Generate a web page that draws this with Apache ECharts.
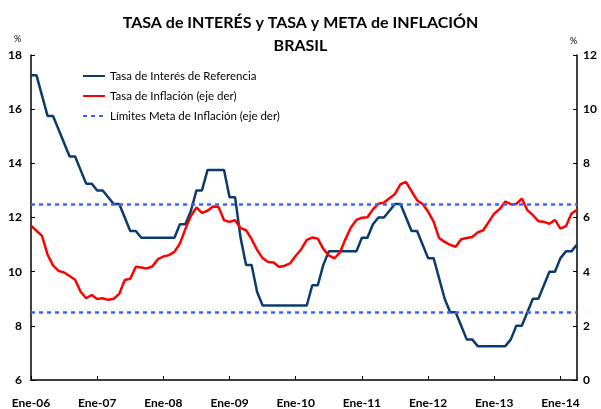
<!DOCTYPE html>
<html lang="es">
<head>
    <meta charset="UTF-8">
    <title>Tasa de interés y tasa y meta de inflación - Brasil</title>
    <script src="https://cdn.jsdelivr.net/npm/echarts@6/dist/echarts.min.js"></script>
    <style>
        html, body { margin: 0; padding: 0; background: #fff; }
    </style>
</head>
<body>
<div id="main" style="width: 601px;height:409px;"></div>
<script type="text/javascript">
    // meses ene-06 .. abr-14
    var anios = ['06', '07', '08', '09', '10', '11', '12', '13', '14'];
    var mesesEs = ['Ene', 'Feb', 'Mar', 'Abr', 'May', 'Jun', 'Jul', 'Ago', 'Sep', 'Oct', 'Nov', 'Dic'];
    var meses = [];
    for (var a = 0; a < anios.length; a++) {
        for (var k = 0; k < 12; k++) {
            if (a === anios.length - 1 && k > 3) break;
            meses.push(mesesEs[k] + '-' + anios[a]);
        }
    }

    // Tasa de interés de referencia (eje izq)
    var tasaInteres = [
        17.25, 17.25, 16.5, 15.75, 15.75, 15.25, 14.75, 14.25, 14.25, 13.75, 13.25, 13.25,
        13.0, 13.0, 12.75, 12.5, 12.5, 12.0, 11.5, 11.5, 11.25, 11.25, 11.25, 11.25,
        11.25, 11.25, 11.25, 11.75, 11.75, 12.25, 13.0, 13.0, 13.75, 13.75, 13.75, 13.75,
        12.75, 12.75, 11.25, 10.25, 10.25, 9.25, 8.75, 8.75, 8.75, 8.75, 8.75, 8.75,
        8.75, 8.75, 8.75, 9.5, 9.5, 10.25, 10.75, 10.75, 10.75, 10.75, 10.75, 10.75,
        11.25, 11.25, 11.75, 12.0, 12.0, 12.25, 12.5, 12.5, 12.0, 11.5, 11.5, 11.0,
        10.5, 10.5, 9.75, 9.0, 8.5, 8.5, 8.0, 7.5, 7.5, 7.25, 7.25, 7.25,
        7.25, 7.25, 7.25, 7.5, 8.0, 8.0, 8.5, 9.0, 9.0, 9.5, 10.0, 10.0,
        10.5, 10.75, 10.75, 11.0
    ];

    // Tasa de inflación 12 meses (eje der)
    var inflacion = [
        5.70, 5.51, 5.32, 4.63, 4.23, 4.03, 3.97, 3.84, 3.70, 3.26, 3.02, 3.14,
        2.99, 3.02, 2.96, 3.00, 3.18, 3.69, 3.74, 4.18, 4.15, 4.12, 4.19, 4.46,
        4.56, 4.61, 4.73, 5.04, 5.58, 6.06, 6.37, 6.17, 6.25, 6.41, 6.39, 5.90,
        5.84, 5.90, 5.61, 5.53, 5.20, 4.80, 4.50, 4.36, 4.34, 4.17, 4.22, 4.31,
        4.59, 4.83, 5.17, 5.26, 5.22, 4.84, 4.60, 4.49, 4.70, 5.20, 5.63, 5.91,
        5.99, 6.01, 6.30, 6.51, 6.55, 6.71, 6.87, 7.23, 7.31, 6.97, 6.64, 6.50,
        6.22, 5.85, 5.24, 5.10, 4.99, 4.92, 5.20, 5.24, 5.28, 5.45, 5.53, 5.84,
        6.15, 6.31, 6.59, 6.49, 6.50, 6.70, 6.27, 6.09, 5.86, 5.84, 5.77, 5.91,
        5.59, 5.68, 6.15, 6.28
    ];

    // límites de la meta de inflación (eje der)
    var metaLimites = [2.5, 6.5];

    var fuente = 'Lato, "DejaVu Sans", sans-serif';
    var myChart = echarts.init(document.getElementById('main'));

    var option = {
        backgroundColor: '#fff',
        animation: false,
        textStyle: { fontFamily: fuente },
        title: {
            text: 'TASA de INTERÉS y TASA y META de INFLACIÓN\nBRASIL',
            left: 'center',
            top: 6,
            textStyle: {
                fontSize: 16,
                fontWeight: 'bold',
                color: '#000',
                lineHeight: 23,
                fontFamily: fuente
            }
        },
        graphic: [
            { type: 'text', left: 14, top: 35, style: { text: '%', fill: '#000', font: '9px ' + fuente } },
            { type: 'text', left: 570, top: 37, style: { text: '%', fill: '#000', font: '9px ' + fuente } }
        ],
        legend: {
            orient: 'vertical',
            left: 77,
            top: 65,
            itemGap: 8,
            itemWidth: 22,
            itemHeight: 10,
            itemStyle: { opacity: 0 },
            textStyle: { fontSize: 11.5, color: '#000', fontFamily: fuente },
            data: ['Tasa de Interés de Referencia', 'Tasa de Inflación (eje der)', 'Límites Meta de Inflación (eje der)']
        },
        grid: {
            left: 31,
            right: 24,
            top: 55,
            bottom: 26
        },
        xAxis: {
            type: 'category',
            data: meses,
            boundaryGap: false,
            axisLine: { lineStyle: { color: '#000', width: 1.5 } },
            axisTick: { inside: true, length: 4, interval: 11, lineStyle: { color: '#000' } },
            axisLabel: {
                interval: 11,
                margin: 17,
                fontSize: 12,
                fontWeight: 'bold',
                color: '#000'
            },
            splitLine: { show: false }
        },
        yAxis: [{
            type: 'value',
            min: 6,
            max: 18,
            interval: 2,
            axisLine: { show: true, lineStyle: { color: '#000', width: 1.5 } },
            axisTick: { show: true, inside: true, length: 4, lineStyle: { color: '#000' } },
            axisLabel: { fontSize: 12, fontWeight: 'bold', color: '#000', margin: 9 },
            splitLine: { show: false }
        }, {
            type: 'value',
            min: 0,
            max: 12,
            interval: 2,
            position: 'right',
            axisLine: { show: true, lineStyle: { color: '#000', width: 1.5 } },
            axisTick: { show: true, inside: true, length: 4, lineStyle: { color: '#000' } },
            axisLabel: { fontSize: 12, fontWeight: 'bold', color: '#000', margin: 6 },
            splitLine: { show: false }
        }],
        series: [{
            name: 'Tasa de Interés de Referencia',
            type: 'line',
            yAxisIndex: 0,
            data: tasaInteres,
            symbol: 'none',
            color: '#0B3B6E',
            lineStyle: { color: '#0B3B6E', width: 2.5 },
            z: 3
        }, {
            name: 'Tasa de Inflación (eje der)',
            type: 'line',
            yAxisIndex: 1,
            data: inflacion,
            symbol: 'none',
            color: '#FF0000',
            lineStyle: { color: '#FF0000', width: 2.5 },
            z: 4
        }, {
            name: 'Límites Meta de Inflación (eje der)',
            type: 'line',
            yAxisIndex: 1,
            data: [],
            symbol: 'none',
            color: '#3366FF',
            lineStyle: { color: '#3366FF', width: 2.5, type: [4, 4] },
            markLine: {
                silent: true,
                symbol: 'none',
                label: { show: false },
                lineStyle: { color: '#3366FF', width: 2.5, type: [4, 4] },
                data: metaLimites.map(function (v) { return { yAxis: v }; })
            },
            z: 2
        }]
    };

    myChart.setOption(option);
</script>
</body>
</html>
